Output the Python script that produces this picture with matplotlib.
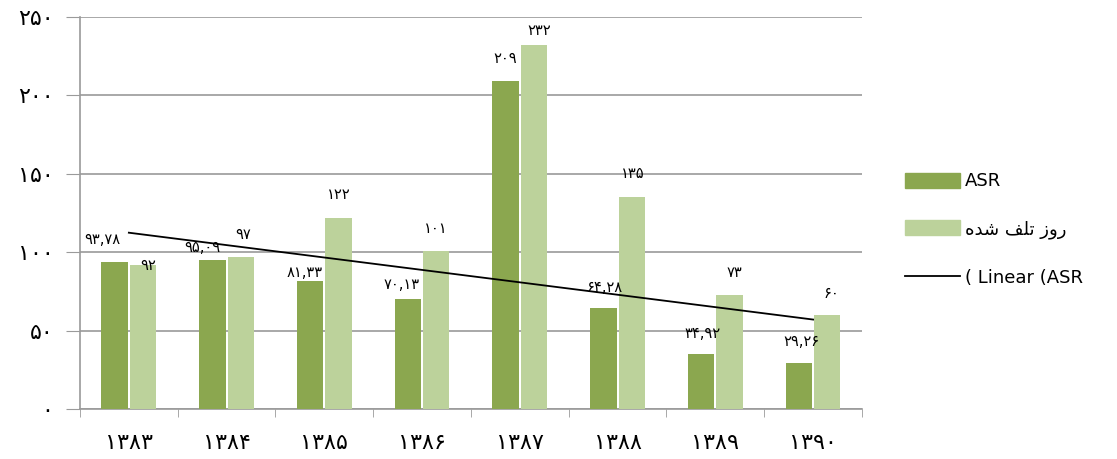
import numpy as np
import matplotlib
matplotlib.use("Agg")
import matplotlib.pyplot as plt
from matplotlib.patches import Patch
from matplotlib.lines import Line2D

years = ["۱۳۸۳", "۱۳۸۴", "۱۳۸۵", "۱۳۸۶", "۱۳۸۷", "۱۳۸۸", "۱۳۸۹", "۱۳۹۰"]
asr = [93.78, 95.09, 81.33, 70.13, 209, 64.28, 34.92, 29.26]
asr_labels = ["۹۳,۷۸", "۹۵,۰۹", "۸۱,۳۳", "۷۰,۱۳", "۲۰۹", "۶۴,۲۸", "۳۴,۹۲", "۲۹,۲۶"]
lost_days = [92, 97, 122, 101, 232, 135, 73, 60]
lost_labels = ["۹۲", "۹۷", "۱۲۲", "۱۰۱", "۲۳۲", "۱۳۵", "۷۳", "۶۰"]
yticks = [0, 50, 100, 150, 200, 250]
ytick_labels = ["۰", "۵۰", "۱۰۰", "۱۵۰", "۲۰۰", "۲۵۰"]
# legend text (visual order, Arabic presentation forms)
lost_name = "ﻩﺪﺷ ﻒﻠﺗ ﺯﻭﺭ"
trend_name = "( Linear (ASR"

dark = "#8BA74F"
light = "#BCD29B"
grid_c = "#9A9A9A"

fig = plt.figure(figsize=(11.17, 4.59), dpi=100)
ax = fig.add_axes([0.0716, 0.109, 0.7001, 0.854])

x = np.arange(len(years))
w = 0.27
ax.bar(x - w / 2 - 0.01, asr, w, color=dark, zorder=3)
ax.bar(x + w / 2 + 0.01, lost_days, w, color=light, zorder=3)

k, b = np.polyfit(x, asr, 1)
ax.plot([x[0], x[-1]], [k * x[0] + b, k * x[-1] + b], color="black", lw=1.3, zorder=4)

# label offsets in pixels (dx, dy) from bar top center
asr_off = [(-12, 22), (-10, 12), (-6, 9), (-6, 15), (-1, 23), (1, 21), (1, 21), (2, 22)]
lost_off = [(5, -1), (2, 22), (0, 23), (0, 22), (5, 15), (1, 24), (5, 22), (4, 21)]
pdf = dict(family=["DejaVu Sans"], fontsize=10.5, ha="center", va="center", zorder=5)
for i in range(len(years)):
    ax.annotate(asr_labels[i], (x[i] - w / 2 - 0.01, asr[i]), xytext=asr_off[i],
                textcoords="offset pixels", **pdf)
    ax.annotate(lost_labels[i], (x[i] + w / 2 + 0.01, lost_days[i]), xytext=lost_off[i],
                textcoords="offset pixels", **pdf)

ax.set_xlim(-0.5, len(years) - 0.5)
ax.set_ylim(0, 250)
ax.set_yticks(yticks)
ax.set_yticklabels(ytick_labels, fontsize=16, family=["DejaVu Sans"])
ax.set_xticks(np.arange(len(years) + 1) - 0.5, minor=True)
ax.set_xticks(x)
ax.set_xticklabels(years, fontsize=16, family=["DejaVu Sans"])
ax.tick_params(axis="x", which="major", length=0, pad=17)
ax.tick_params(axis="x", which="minor", length=6, color=grid_c)
ax.tick_params(axis="y", length=10, color=grid_c, pad=9)
ax.yaxis.grid(True, color=grid_c, lw=1.2, zorder=0)
for s in ["top", "right"]:
    ax.spines[s].set_visible(False)
for s in ["left", "bottom"]:
    ax.spines[s].set_color(grid_c)
    ax.spines[s].set_linewidth(1.2)

handles = [Patch(color=dark), Patch(color=light), Line2D([0], [0], color="black", lw=1.3)]
fig.legend(handles, ["ASR", lost_name, trend_name], loc="center left",
           bbox_to_anchor=(0.796, 0.5), frameon=False,
           prop={"family": ["DejaVu Sans"], "size": 13},
           handlelength=3.0, handleheight=0.9, labelspacing=1.65, handletextpad=0.3)

fig.savefig("out.png", dpi=100)
